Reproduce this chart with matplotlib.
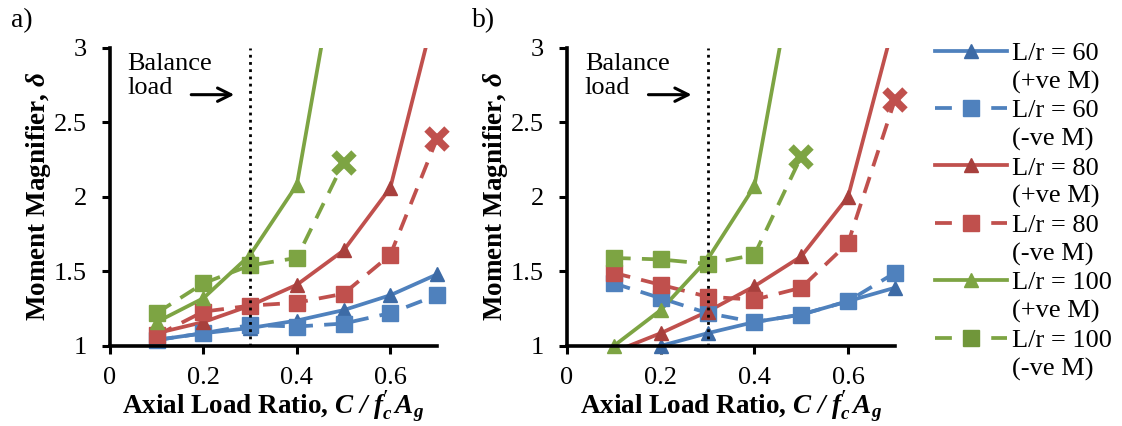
import matplotlib
matplotlib.use("Agg")
import matplotlib.pyplot as plt
from matplotlib.lines import Line2D
import numpy as np

plt.rcParams["font.family"] = ["Liberation Serif", "DejaVu Serif"]
plt.rcParams["mathtext.fontset"] = "custom"
plt.rcParams["mathtext.rm"] = "Liberation Serif"
plt.rcParams["mathtext.it"] = "Liberation Serif:italic"
plt.rcParams["mathtext.bf"] = "Liberation Serif:bold"
plt.rcParams["mathtext.bfit"] = "Liberation Serif:bold:italic"

# Axial load ratio C / f'c Ag
ratio = [0.1, 0.2, 0.3, 0.4, 0.5, 0.6, 0.7]

# a) moment magnifier
a_lr60_pos = [1.04, 1.085, 1.12, 1.17, 1.24, 1.34, 1.48]
a_lr60_neg = [1.04, 1.085, 1.14, 1.13, 1.15, 1.22, 1.34]
a_lr80_pos = [1.085, 1.16, 1.27, 1.41, 1.64, 2.06, 3.30]
a_lr80_neg = [1.07, 1.23, 1.27, 1.29, 1.35, 1.61, 2.39]
a_lr100_pos = [1.16, 1.32, 1.61, 2.08, 3.85]
a_lr100_neg = [1.22, 1.42, 1.54, 1.59, 2.23]

# b) moment magnifier
b_lr60_pos = [0.90, 1.00, 1.085, 1.16, 1.21, 1.30, 1.39]
b_lr60_neg = [1.42, 1.32, 1.22, 1.16, 1.21, 1.30, 1.49]
b_lr80_pos = [0.96, 1.085, 1.23, 1.40, 1.60, 2.00, 3.19]
b_lr80_neg = [1.49, 1.41, 1.33, 1.31, 1.39, 1.69, 2.65]
b_lr100_pos = [1.00, 1.24, 1.58, 2.07, 3.79]
b_lr100_neg = [1.59, 1.58, 1.55, 1.61, 2.27]

series_names = ["L/r = 60", "L/r = 60", "L/r = 80",
                "L/r = 80", "L/r = 100", "L/r = 100"]
moment_signs = ["(+ve M)", "(-ve M)", "(+ve M)",
                "(-ve M)", "(+ve M)", "(-ve M)"]

BLUE = "#4F81BD"
RED = "#C0504D"
GREEN = "#7DA443"
BLUE_D = "#3D6BA6"
RED_D = "#A8403D"
GREEN_D = "#70963A"
DASH = (0, (4.5, 3))
LW = 2.7

fig = plt.figure(figsize=(11.22, 4.26), dpi=100)
ax_a = fig.add_axes([0.098, 0.188, 0.2915, 0.70])
ax_b = fig.add_axes([0.5053, 0.188, 0.2923, 0.70])


def visible(x, y):
    x = np.asarray(x, float)
    y = np.asarray(y, float)
    m = (y >= 0.999) & (y <= 3.0)
    return x[m], y[m]


def solid(ax, y, color, mcolor):
    x = ratio[:len(y)]
    ax.plot(x, y, color=color, lw=LW, solid_capstyle="butt", zorder=3)
    xm, ym = visible(x, y)
    ax.plot(xm, ym, ls="none", marker="^", ms=10.5, color=mcolor,
            mec=mcolor, clip_on=False, zorder=4)


def dashed(ax, y, color, mcolor, last_cross):
    x = ratio[:len(y)]
    ax.plot(x, y, color=color, lw=LW, ls=DASH, zorder=3)
    if last_cross:
        xs, ys = visible(x[:-1], y[:-1])
        ax.plot(x[-1], y[-1], ls="none", marker="x", ms=15, mew=5.5,
                color=color, clip_on=False, zorder=4)
    else:
        xs, ys = visible(x, y)
    ax.plot(xs, ys, ls="none", marker="s", ms=11, color=color,
            mec=color, clip_on=False, zorder=4)


def panel(ax, s60p, s60n, s80p, s80n, s100p, s100n):
    solid(ax, s60p, BLUE, BLUE_D)
    dashed(ax, s60n, BLUE, BLUE, False)
    solid(ax, s80p, RED, RED_D)
    dashed(ax, s80n, RED, RED, True)
    solid(ax, s100p, GREEN, GREEN)
    dashed(ax, s100n, GREEN, GREEN_D, True)

    ax.axvline(0.3, color="black", ls=(0, (1, 1.6)), lw=2.0, zorder=5)
    ax.set_xlim(0, 0.7)
    ax.set_ylim(1, 3)
    ax.set_xticks([0, 0.2, 0.4, 0.6])
    ax.set_xticklabels(["0", "0.2", "0.4", "0.6"])
    ax.set_yticks([1, 1.5, 2, 2.5, 3])
    ax.set_yticklabels(["1", "1.5", "2", "2.5", "3"])
    for s in ("top", "right"):
        ax.spines[s].set_visible(False)
    for s in ("left", "bottom"):
        ax.spines[s].set_linewidth(2.6)
        ax.spines[s].set_zorder(6)
    ax.tick_params(direction="out", length=5.5, width=2.2, labelsize=19,
                   colors="black")
    ax.tick_params(axis="y", pad=11)
    ax.tick_params(axis="x", pad=10)
    ax.set_xlabel(r"Axial Load Ratio, $\mathbfit{C\ /\ f^{\prime}_{c}\,A_{g}}$",
                  fontsize=19.5, fontweight="bold", labelpad=0)
    ax.set_ylabel(r"Moment Magnifier, $\mathbfit{\delta}$",
                  fontsize=19.5, fontweight="bold", labelpad=1)
    ax.text(0.038, 2.81, "Balance\nload", fontsize=19, ha="left",
            va="center", linespacing=1.12)
    ax.annotate("", xy=(0.272, 2.685), xytext=(0.168, 2.685),
                arrowprops=dict(arrowstyle="->", lw=2.2, color="black",
                                mutation_scale=24))


panel(ax_a, a_lr60_pos, a_lr60_neg, a_lr80_pos, a_lr80_neg,
      a_lr100_pos, a_lr100_neg)
panel(ax_b, b_lr60_pos, b_lr60_neg, b_lr80_pos, b_lr80_neg,
      b_lr100_pos, b_lr100_neg)

fig.text(0.010, 0.952, "a)", fontsize=20, va="center", ha="left")
fig.text(0.421, 0.952, "b)", fontsize=20, va="center", ha="left")

series_handles = [
    Line2D([], [], color=BLUE, lw=LW, marker="^", ms=10.5, mfc=BLUE_D, mec=BLUE_D),
    Line2D([], [], color=BLUE, lw=LW, ls=DASH, marker="s", ms=11),
    Line2D([], [], color=RED, lw=LW, marker="^", ms=10.5, mfc=RED_D, mec=RED_D),
    Line2D([], [], color=RED, lw=LW, ls=DASH, marker="s", ms=11),
    Line2D([], [], color=GREEN, lw=LW, marker="^", ms=10.5),
    Line2D([], [], color=GREEN, lw=LW, ls=DASH, marker="s", ms=11, mfc=GREEN_D, mec=GREEN_D),
]
# each entry wraps onto two rows; the handle sits beside the first row
handles, labels = [], []
for h, name, sign in zip(series_handles, series_names, moment_signs):
    handles += [h, Line2D([], [], ls="none")]
    labels += [name, sign]

fig.legend(handles, labels, loc="upper left", bbox_to_anchor=(0.833, 0.903),
           frameon=False, fontsize=19, handlelength=2.75, handletextpad=0.2,
           labelspacing=0.19, borderaxespad=0, borderpad=0)

fig.savefig("out.png", dpi=100)
